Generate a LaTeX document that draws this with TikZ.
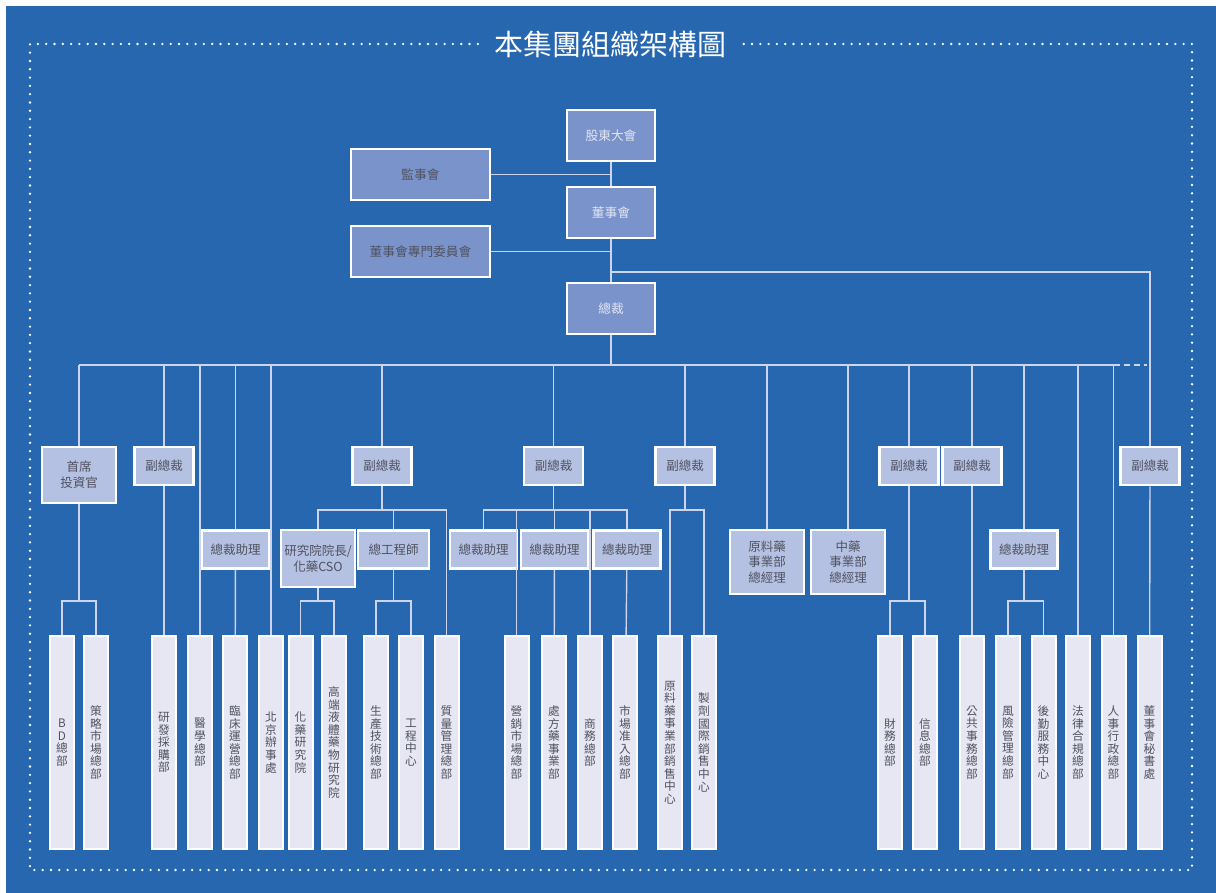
\documentclass[tikz,border=0pt]{standalone}
\usepackage{fontspec}
\setmainfont{Noto Sans CJK TC}
\usetikzlibrary{positioning}
\definecolor{bgblue}{RGB}{38,103,176}
\definecolor{topfill}{RGB}{123,147,203}
\definecolor{midfill}{RGB}{181,193,226}
\definecolor{lowfill}{RGB}{230,231,243}
\definecolor{linecol}{RGB}{205,213,236}
\definecolor{darktext}{RGB}{80,82,96}
\definecolor{lighttext}{RGB}{226,229,242}

\begin{document}
\begin{tikzpicture}[x=1pt,y=-1pt,
    topbox/.style={draw=white,line width=2.8pt,fill=topfill,inner sep=0pt,font=\fontsize{12.7}{15}\selectfont},
    midbox/.style={draw=white,line width=2.5pt,fill=midfill,text=darktext,inner sep=0pt,align=center,font=\fontsize{12.5}{15.7}\selectfont},
    unitbox/.style={draw=white,line width=2pt,fill=lowfill,text=darktext,inner sep=0pt,minimum width=24,minimum height=213,align=center,font=\fontsize{11.7}{12.6}\selectfont},
    conn/.style={draw=linecol,line width=1.4pt},
    frame/.style={draw=white,line width=2.6pt,dash pattern=on 0pt off 8.3pt,line cap=round}]
    % Background and page size
    \fill[white] (0,0) rectangle (1216,893);
    \fill[bgblue] (6,6) rectangle (1216,893);
    \useasboundingbox (0,0) rectangle (1216,893);

    % Title and dotted frame
    \node[text=white,font=\fontsize{29}{31}\selectfont,inner xsep=16pt] (title) at (610,44) {本集團組織架構圖};
    \draw[frame] (title.west) -- (30,44) -- (30,870) -- (1192,870) -- (1192,44) -- (title.east);

    % Top level
    \node[topbox,text=lighttext,minimum width=88,minimum height=51] (gdh) at (611,135.5) {股東大會};
    \node[topbox,text=darktext,minimum width=139,minimum height=51] (jsh) at (420.5,174.5) {監事會};
    \node[topbox,text=lighttext,minimum width=88,minimum height=51] (dsh) at (611,212.5) {董事會};
    \node[topbox,text=darktext,minimum width=139,minimum height=51] (zmwyh) at (420.5,251.5) {董事會專門委員會};
    \node[topbox,text=lighttext,minimum width=88,minimum height=51] (zc) at (611,308.5) {總裁};

    % Second level
    \node[midbox,minimum width=74,minimum height=56] (sxtz) at (79,475) {首席\\投資官};
    \node[midbox,minimum width=59,minimum height=38] (fz1) at (164,466) {副總裁};
    \node[midbox,minimum width=59,minimum height=38] (fz2) at (382,466) {副總裁};
    \node[midbox,minimum width=59,minimum height=38] (fz3) at (553.5,466) {副總裁};
    \node[midbox,minimum width=59,minimum height=38] (fz4) at (685,466) {副總裁};
    \node[midbox,minimum width=59,minimum height=38] (fz5) at (909,466) {副總裁};
    \node[midbox,minimum width=59,minimum height=38] (fz6) at (972,466) {副總裁};
    \node[midbox,minimum width=59,minimum height=38] (fz7) at (1150,466) {副總裁};

    % Third level
    \node[midbox,minimum width=67,minimum height=38] (zczl1) at (235.5,549.5) {總裁助理};
    \node[midbox,minimum width=74,minimum height=57] (yjy) at (318,558.5) {研究院院長/\\化藥CSO};
    \node[midbox,minimum width=71,minimum height=38] (zgcs) at (393.5,549.5) {總工程師};
    \node[midbox,minimum width=67,minimum height=38] (zczl2) at (483.5,549.5) {總裁助理};
    \node[midbox,minimum width=67,minimum height=38] (zczl3) at (554.5,549.5) {總裁助理};
    \node[midbox,minimum width=67,minimum height=38] (zczl4) at (627,549.5) {總裁助理};
    \node[midbox,minimum width=74,minimum height=64] (yljl) at (767,562) {原料藥\\事業部\\總經理};
    \node[midbox,minimum width=74,minimum height=64] (zyjl) at (848,562) {中藥\\事業部\\總經理};
    \node[midbox,minimum width=67,minimum height=38] (zczl5) at (1024,549.5) {總裁助理};

    % Departments
    \node[unitbox] (bdzb) at (62,742.5) {B\\D\\總\\部};
    \node[unitbox] (clsc) at (96,742.5) {策\\略\\市\\場\\總\\部};
    \node[unitbox] (yfcg) at (164,742.5) {研\\發\\採\\購\\部};
    \node[unitbox] (yxzb) at (200,742.5) {醫\\學\\總\\部};
    \node[unitbox] (lcyy) at (235,742.5) {臨\\床\\運\\營\\總\\部};
    \node[unitbox] (bjbsc) at (271,742.5) {北\\京\\辦\\事\\處};
    \node[unitbox] (hyyjy) at (300.5,742.5) {化\\藥\\研\\究\\院};
    \node[unitbox] (gdyt) at (334,742.5) {高\\端\\液\\體\\藥\\物\\研\\究\\院};
    \node[unitbox] (scjs) at (376,742.5) {生\\產\\技\\術\\總\\部};
    \node[unitbox] (gczx) at (411,742.5) {工\\程\\中\\心};
    \node[unitbox] (zlgl) at (446.5,742.5) {質\\量\\管\\理\\總\\部};
    \node[unitbox] (yxsc) at (516.5,742.5) {營\\銷\\市\\場\\總\\部};
    \node[unitbox] (cfy) at (554,742.5) {處\\方\\藥\\事\\業\\部};
    \node[unitbox] (swzb) at (590,742.5) {商\\務\\總\\部};
    \node[unitbox] (sczr) at (625,742.5) {市\\場\\准\\入\\總\\部};
    \node[unitbox] (ylxs) at (670,742.5) {原\\料\\藥\\事\\業\\部\\銷\\售\\中\\心};
    \node[unitbox] (zjgj) at (704,742.5) {製\\劑\\國\\際\\銷\\售\\中\\心};
    \node[unitbox] (cwzb) at (890,742.5) {財\\務\\總\\部};
    \node[unitbox] (xxzb) at (925,742.5) {信\\息\\總\\部};
    \node[unitbox] (ggsw) at (972,742.5) {公\\共\\事\\務\\總\\部};
    \node[unitbox] (fxgl) at (1008,742.5) {風\\險\\管\\理\\總\\部};
    \node[unitbox] (hqfw) at (1043.5,742.5) {後\\勤\\服\\務\\中\\心};
    \node[unitbox] (flhg) at (1078,742.5) {法\\律\\合\\規\\總\\部};
    \node[unitbox] (rsxz) at (1113.5,742.5) {人\\事\\行\\政\\總\\部};
    \node[unitbox] (dsmsc) at (1149.5,742.5) {董\\事\\會\\秘\\書\\處};

    % Trunk
    \coordinate (tap) at (611,272);
    \coordinate (bus) at (611,365);
    \coordinate (midfork) at (0,510);
    \coordinate (lowfork) at (0,601);
    \draw[conn] (gdh) -- (dsh);
    \draw[conn] (dsh) -- (zc);
    \draw[conn] (jsh.east) -- (jsh.east -| gdh.south);
    \draw[conn] (zmwyh.east) -- (zmwyh.east -| dsh.south);
    \draw[conn] (tap) -| (fz7.north);
    \draw[conn] (zc) -- (bus);

    % Main bus
    \draw[conn] (bus -| sxtz.north) -- (bus -| rsxz.north);
    \draw[conn,dash pattern=on 6pt off 4pt,shorten >=3pt] (bus -| rsxz.north) -- (bus -| fz7.north);
    \draw[conn] (bus -| sxtz.north) -- (sxtz.north);
    \draw[conn] (bus -| fz1.north) -- (fz1.north);
    \draw[conn] (bus -| yxzb.north) -- (yxzb.north);
    \draw[conn] (bus -| zczl1.north) -- (zczl1.north);
    \draw[conn] (bus -| bjbsc.north) -- (bjbsc.north);
    \draw[conn] (bus -| fz2.north) -- (fz2.north);
    \draw[conn] (bus -| fz3.north) -- (fz3.north);
    \draw[conn] (bus -| fz4.north) -- (fz4.north);
    \draw[conn] (bus -| yljl.north) -- (yljl.north);
    \draw[conn] (bus -| zyjl.north) -- (zyjl.north);
    \draw[conn] (bus -| fz5.north) -- (fz5.north);
    \draw[conn] (bus -| fz6.north) -- (fz6.north);
    \draw[conn] (bus -| zczl5.north) -- (zczl5.north);
    \draw[conn] (bus -| flhg.north) -- (flhg.north);
    \draw[conn] (bus -| rsxz.north) -- (rsxz.north);

    % Left branches
    \draw[conn] (sxtz.south) -- (sxtz.south |- lowfork);
    \draw[conn] (bdzb.north) |- (clsc.north |- lowfork) -- (clsc.north);
    \draw[conn] (fz1) -- (yfcg);
    \draw[conn] (zczl1) -- (lcyy);

    % R&D and production
    \draw[conn] (fz2.south) -- (fz2.south |- midfork);
    \draw[conn] (yjy.north) |- (zlgl.north |- midfork) -- (zlgl.north);
    \draw[conn] (zgcs.north) -- (zgcs.north |- midfork);
    \draw[conn] (yjy.south) -- (yjy.south |- lowfork);
    \draw[conn] (hyyjy.north) |- (gdyt.north |- lowfork) -- (gdyt.north);
    \draw[conn] (zgcs.south) -- (zgcs.south |- lowfork);
    \draw[conn] (scjs.north) |- (gczx.north |- lowfork) -- (gczx.north);

    % Sales
    \draw[conn] (fz3.south) -- (fz3.south |- midfork);
    \draw[conn] (zczl2.north) |- (zczl4.north |- midfork) -- (zczl4.north);
    \draw[conn] (zczl3.north) -- (zczl3.north |- midfork);
    \draw[conn] (yxsc.north) -- (yxsc.north |- midfork);
    \draw[conn] (swzb.north) -- (swzb.north |- midfork);
    \draw[conn] (zczl3) -- (cfy);
    \draw[conn] (zczl4) -- (sczr);
    \draw[conn] (fz4.south) -- (fz4.south |- midfork);
    \draw[conn] (ylxs.north) |- (zjgj.north |- midfork) -- (zjgj.north);

    % Right branches
    \draw[conn] (fz5.south) -- (fz5.south |- lowfork);
    \draw[conn] (cwzb.north) |- (xxzb.north |- lowfork) -- (xxzb.north);
    \draw[conn] (fz6) -- (ggsw);
    \draw[conn] (zczl5.south) -- (zczl5.south |- lowfork);
    \draw[conn] (fxgl.north) |- (hqfw.north |- lowfork) -- (hqfw.north);
    \draw[conn] (fz7) -- (dsmsc);
\end{tikzpicture}
\end{document}
